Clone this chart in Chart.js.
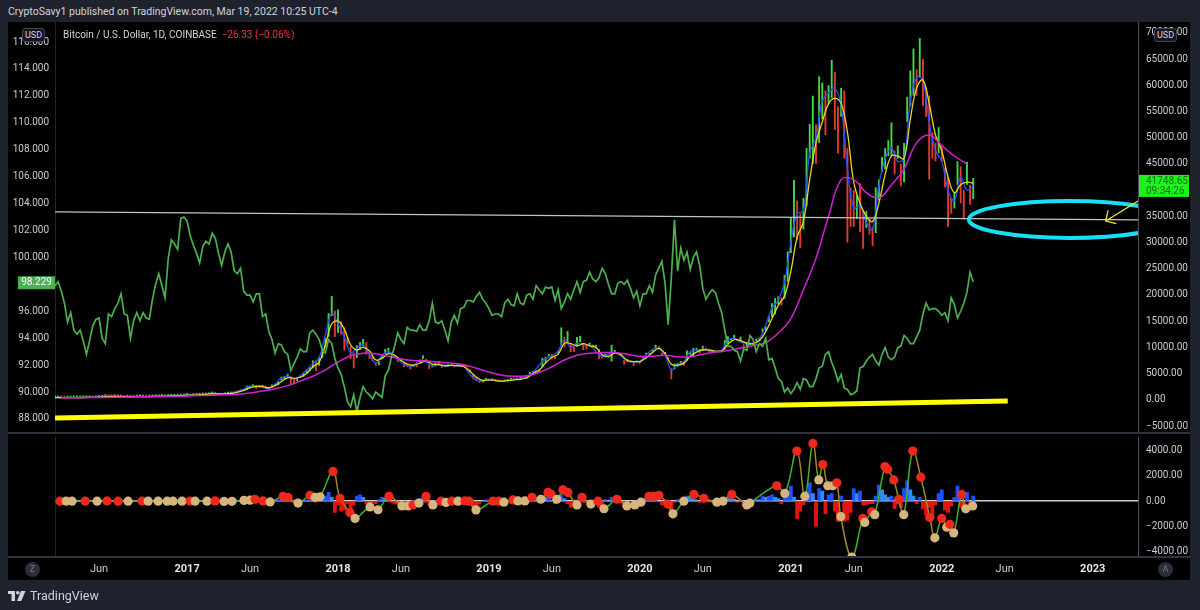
<!DOCTYPE html>
<html>
<head>
<meta charset="utf-8">
<title>BTCUSD / DXY</title>
<script src="https://cdn.jsdelivr.net/npm/chart.js@4.4.1/dist/chart.umd.min.js"></script>
<style>
  html, body { margin: 0; padding: 0; }
  body { width: 1200px; height: 610px; background: #1e222d; position: relative; overflow: hidden;
         font-family: Roboto, "Liberation Sans", sans-serif; color: #d1d4dc; }
  #head { position: absolute; left: 8px; top: 4px; font-size: 10.5px; line-height: 15px; }
  #pane { position: absolute; left: 8px; top: 22px; width: 1182px; height: 558px; background: #000; }
  #mainBox { position: absolute; left: 8px; top: 22px; width: 1182px; height: 410px; }
  #subBox { position: absolute; left: 8px; top: 433px; width: 1182px; height: 147px; }
  .sep { position: absolute; left: 8px; width: 1182px; height: 2px; background: #30333d; }
  #legend { position: absolute; left: 63px; top: 29px; font-size: 10px; line-height: 12px; color: #d1d4dc; }
  #legend span { color: #f23645; margin-left: 5px; }
  .usd { position: absolute; top: 28px; width: 21px; height: 12px; border: 1px solid #434651; border-radius: 3px;
         background: #131722; font-size: 9px; line-height: 12px; text-align: center; color: #d1d4dc; }
  .btn { position: absolute; top: 562px; width: 15px; height: 15px; border-radius: 50%; background: #2a2e39;
         color: #787b86; font-size: 9px; line-height: 15px; text-align: center; }
  #brand { position: absolute; left: 8px; top: 588px; font-size: 12.5px; color: #d1d4dc;
           display: flex; align-items: center; gap: 4px; }
</style>
</head>
<body>
<div id="head">CryptoSavy1 published on TradingView.com, Mar 19, 2022 10:25 UTC-4</div>
<div id="pane"></div>
<div id="mainBox"><canvas id="main"></canvas></div>
<div id="subBox"><canvas id="sub"></canvas></div>
<div class="sep" style="top:432px"></div>
<div class="sep" style="top:556px"></div>
<div id="legend">Bitcoin / U.S. Dollar, 1D, COINBASE<span>−26.33 (−0.06%)</span></div>
<div class="usd" style="left:22px">USD</div>
<div class="usd" style="left:1154px">USD</div>
<div class="btn" style="left:25px">Z</div>
<div class="btn" style="left:1158px">A</div>
<div id="brand">
  <svg width="18" height="10" viewBox="0 0 18 10"><path d="M0 0h7v10H3.5V3H0z" fill="#d1d4dc"/><circle cx="9.8" cy="1.8" r="1.8" fill="#d1d4dc"/><path d="M13 0h4.5l-4.3 10H9z" fill="#d1d4dc"/></svg>
  <span>TradingView</span>
</div>
<script>
// time runs in decimal years; weekly slots start 16 Feb 2016
const X_MIN = 2016.125, X_MAX = 2023.3;

// BTCUSD weekly range (4 slots per month), low / high
const btcLow = [
  395,415, 410,405,408,410, 412,418,422,430, 440,448,440,445, 525,570,680,620, 640,650,655,645, 530,575,570,565, 590,600,603,598, 605,612,635,650, 690,690,700,725, 740,765,775,790,
  890,760,870,895, 910,990,980,1040, 1180,1140,950,940, 1030,1160,1170,1200, 1340,1540,1700,1900, 2200,2500,2100,2400, 2450,2300,1850,2300, 2600,2800,3700,3900, 4300,3000,3100,3600, 4200,4400,5100,5500, 6000,5500,6500,8000, 10000,12000,16000,12000,
  12800,12500,9400,10500, 7800,6000,8000,9500, 10200,8600,7800,7300, 6500,6600,7800,8700, 9000,8400,8000,7200, 7300,6200,6300,5800, 6300,6200,7200,7800, 7100,5900,6200,6400, 6800,6100,6300,6400, 6450,6200,6400,6250, 6350,6250,5200,3900, 3700,3250,3300,3700,
  3650,3700,3550,3500, 3400,3500,3600,3700, 3800,3850,3950,4000, 4050,4800,5100,5200, 5400,6200,7000,8300, 7700,7800,8900,10500, 10000,11000,9100,9100, 10100,11000,9500,9600, 10300,10000,10100,7800, 7900,8100,8000,7300, 9000,8700,8300,6700, 7200,7100,6450,7100,
  6900,7700,8600,8400, 9200,9700,9600,8500, 8600,7700,3900,5800, 6300,6800,6500,7500, 8600,8100,9300,8800, 9300,9500,9100,9000, 8900,9100,9050,9600, 10700,11300,11600,11200, 11200,9900,10200,10400, 10400,11200,11300,12800, 13200,14800,15800,16300, 18200,18000,19300,22500,
  28000,31000,30500,29000, 32500,37000,46000,45000, 45000,49000,53500,50500, 56500,57500,51500,47000, 54000,46000,30000,33000, 33000,34500,32000,28800, 32800,31500,29300,31800, 38000,43500,44000,46500, 46500,43000,46000,40700, 41500,53000,56000,58000, 58000,61500,56000,54000, 42000,46000,45500,47000,
  45500,40500,33000,35500, 36500,41000,37500,34400, 41000,37200,38300
];
const btcHigh = [
  420,445, 440,420,420,420, 425,428,432,460, 455,460,455,535, 590,700,770,760, 690,680,670,665, 610,595,585,585, 610,615,612,610, 620,645,655,715, 745,720,750,745, 770,780,800,970,
  1130,920,930,930, 1010,1020,1070,1210, 1290,1250,1200,1070, 1100,1210,1220,1350, 1560,1800,2000,2700, 2600,2980,2800,2700, 2650,2550,2400,2900, 2900,3500,4400,4500, 4950,4500,4000,4300, 4500,5200,5800,6200, 7500,7500,8100,10000, 11800,16500,19800,17000,
  17200,15000,13800,12000, 10200,9000,10400,11000, 11600,11000,8700,8400, 7200,7400,8500,9700, 9900,9000,8600,7700, 7750,7000,6800,6400, 6700,6700,7600,8500, 7800,6800,6700,7100, 7400,6500,6600,6800, 6600,6700,6500,6400, 6500,6400,5800,4700, 4300,3600,3700,4150,
  3900,4050,3700,3600, 3500,3650,3700,4150, 3900,3950,4050,4100, 4200,5300,5300,5400, 5800,8000,8200,8800, 8700,8300,9400,13800, 12000,13100,10800,10200, 12000,12200,10800,10500, 10900,10500,10400,9700, 8500,8800,8300,10500, 9500,9100,8700,7600, 7800,7500,7300,7500,
  7400,8300,9000,9000, 9500,10500,10300,9000, 9100,8100,6000,6900, 7000,7400,7200,9400, 9100,9900,9900,9300, 10300,9900,9500,9300, 9300,9400,9250,11400, 12100,11800,12400,11700, 12050,10600,11000,10900, 10700,11700,11900,13600, 14000,15900,18400,19400, 19700,19500,23800,28300,
  34800,41900,38000,35500, 38500,48000,52600,58000, 52500,61700,60500,59000, 60000,64800,62500,56000, 59500,59000,48000,40500, 40000,39000,41300,36000, 36000,34500,33000,40500, 42000,46300,48000,49500, 52900,47500,48500,45000, 49000,57800,62800,67000, 63000,69000,65000,59500, 58000,51000,49000,52000,
  48500,44300,42500,38500, 39500,45500,44500,40000, 45400,41000,42300
];
const lastBtc = 41748.65, lastBtcClock = '09:34:26';

// U.S. dollar index, same weekly slots (left scale)
const dxyClose = [
  97.9,98.2, 97.5,96.6,95.2,95.9, 94.6,94.3,94.6,93.8, 92.8,93.8,94.9,95.4, 95.5,94.0,93.6,95.8, 95.6,96.2,96.6,97.3, 95.8,95.7,94.0,95.3, 95.9,95.3,95.9,95.5, 95.4,96.9,98.0,98.8, 97.9,97.0,99.9,101.3, 101.0,100.6,102.9,103.0,
  102.7,101.6,100.9,100.3, 99.6,100.8,101.2,101.0, 101.8,101.4,100.3,99.4, 100.4,101.0,100.4,99.0, 98.8,99.2,97.5,97.2, 97.2,96.7,97.3,97.3, 95.6,95.8,94.5,93.9, 92.9,93.6,93.5,93.0, 92.8,91.6,92.1,92.6, 93.2,93.0,93.0,94.4, 94.6,94.3,93.9,93.1, 92.9,93.9,93.6,92.5,
  91.8,91.3,90.4,89.3, 88.9,89.8,88.5,89.6, 90.4,90.0,89.8,89.5, 90.0,89.8,89.6,91.2, 91.6,92.6,93.4,94.4, 93.9,93.6,94.8,94.6, 94.6,94.5,95.0,94.6, 94.6,95.3,96.6,95.2, 95.1,95.3,94.6,93.8, 95.2,95.7,95.1,96.2, 96.3,96.8,96.8,96.7, 97.1,97.4,96.9,96.6,
  96.2,95.7,95.8,95.8, 95.6,96.6,96.9,96.5, 96.4,97.3,96.6,96.5, 97.2,97.3,96.9,97.9, 97.6,97.3,97.8,97.7, 97.8,96.8,97.6,96.2, 96.7,97.3,96.9,97.6, 98.2,97.4,98.2,98.3, 98.9,98.4,98.2,98.5, 99.2,98.8,98.0,97.3, 97.3,98.1,98.2,98.0, 98.3,97.7,97.0,97.5,
  96.4,97.3,97.3,97.9, 97.4,98.7,99.2,99.7, 98.1,95.0,98.5,102.8, 99.0,100.7,99.8,100.4, 99.1,100.0,100.4,99.4, 97.7,96.9,97.3,97.6, 97.4,96.6,95.9,94.6, 93.4,93.4,93.1,93.0, 92.3,93.2,93.1,94.2, 93.9,93.0,93.6,93.4, 94.0,92.4,92.5,91.8, 91.0,90.8,90.0,90.3,
  89.9,90.2,90.7,90.2, 91.0,90.9,90.4,90.4, 91.0,91.8,91.9,92.8, 93.0,92.2,91.6,90.8, 91.3,90.3,90.2,89.8, 89.9,90.1,91.8,91.9, 92.3,92.6,92.8,92.3, 92.0,92.8,93.3,92.6, 92.4,92.6,93.3,93.4, 94.2,94.0,93.6,93.6, 94.1,94.6,95.8,96.6, 96.1,96.2,96.2,96.0,
  95.7,95.9,95.3,97.0, 96.5,95.5,96.0,96.6, 97.4,98.9,98.2
];
const lastDxy = 98.229;

// moving averages on BTC: two per month (yellow, blue), monthly from Mar 2016 (magenta)
const maYellow = [
  410, 415,418, 420,425, 445,455, 500,610, 660,660, 620,590, 595,605, 615,640, 690,720, 750,790,
  880,900, 960,1040, 1150,1130, 1120,1200, 1450,1800, 2300,2550, 2500,2300, 2700,3500, 4200,4100, 4300,5000, 6300,7200, 10500,14500,
  15000,13500, 10500,9500, 10000,9300, 7600,7900, 8800,8500, 7600,6800, 6600,7000, 7400,6800, 6700,6500, 6550,6500, 6350,5400, 4300,3700,
  3800,3700, 3550,3650, 3800,3900, 4200,5000, 5700,7000, 8100,8700, 10800,10700, 10300,10700, 10300,10000, 8600,8300, 8900,8600, 7500,7300,
  7300,8000, 9000,9800, 8800,6800, 6600,7000, 8300,9100, 9500,9500, 9300,9300, 10600,11500, 11300,10800, 10700,11300, 13000,15500, 18000,19800,
  24500,31000, 34000,42000, 49000,53000, 56500,57500, 56500,51000, 41500,37500, 35000,34000, 37500,43000, 46500,46500, 46000,53500, 59500,61000, 56500,50500,
  47500,42500, 39500,41000, 41500,41300
];
const maBlue = [
  415, 418,415, 421,430, 450,480, 580,700, 665,662, 590,578, 603,607, 625,665, 705,735, 770,830,
  930,910, 1000,1100, 1220,1080, 1100,1260, 1620,2050, 2600,2600, 2420,2200, 3000,4200, 4500,3900, 4600,5700, 6900,8000, 12500,16500,
  14500,12000, 9000,9800, 10500,8600, 7000,8500, 9200,8300, 7200,6500, 6500,7600, 7200,6400, 6800,6400, 6550,6450, 6350,4800, 3700,3650,
  3850,3650, 3500,3700, 3870,4000, 4500,5200, 6600,7900, 8300,9300, 11500,10000, 10800,10400, 10400,9200, 8300,8700, 9000,8300, 7400,7200,
  7400,8500, 9600,9800, 8500,5700, 6800,7300, 9200,9500, 9600,9400, 9200,9500, 11400,11700, 11000,10800, 10800,11600, 14200,17500, 19000,22500,
  30000,35500, 36000,47000, 50000,57000, 58500,59500, 56000,44000, 36500,37000, 33800,32500, 41000,46000, 48000,45500, 46000,57000, 61500,61000, 53000,47500,
  45500,40000, 38000,42500, 40000,40800
];
const maMagenta = [
  400,405,415,430,480,530,560,580,610,650,
  720,800,870,960,1050,1300,1700,2100,2700,3600,4500,5700,
  7200,8400,8900,8800,8300,7800,7500,7400,7200,7000,6700,6000,
  5300,4700,4500,4600,5200,6300,7600,8500,8900,9000,9000,8700,
  8300,8300,8500,8200,8200,8700,9100,9400,9900,10300,10900,12700,
  15500,21000,27000,35000,42000,42000,39500,38500,41000,44000,49000,50500,
  48500,46500,45000
];

// drawn lines: level through the two DXY tops, rising support under BTC
const levelT = [2016.125, 2023.3], levelDxy = [103.39, 102.79];
const trendT = [2016.125, 2022.437], trendBtc = [-3470, -230];

// lower pane: histogram on weekly slots, signal line with dots
const oscHist = [
  0,0, 0,0,0,0, 0,0,0,0, 0,0,0,0, 0,0,0,0, 0,0,0,0, 0,0,0,0, 0,0,0,0, 0,0,0,0, 0,0,0,0, 0,0,0,0,
  0,0,0,0, 0,0,0,0, 0,0,0,0, 0,0,0,0, 0,10,20,30, 40,0,-40,-20, -20,-30,-60,40, 60,80,100,40, 40,-60,-120,-30, 20,60,80,100, 120,-80,100,200, 400,700,300,-900,
  -300,-800,-700,-200, -600,-300,400,500, 300,-200,-300,-100, -200,100,300,250, 100,-100,-200,-250, -150,-200,-120,-80, 50,80,200,250, -100,-250,-150,60, 50,-80,20,30, 0,20,-10,-20, 0,-30,-250,-400, -350,-200,0,100,
  40,50,-60,-40, -20,30,40,40, 30,20,30,30, 40,250,150,60, 100,400,300,350, 50,-200,200,500, 200,-200,-500,-300, 100,250,-100,-100, 50,0,-50,-500, -300,100,0,300, 100,-100,-150,-350, -150,-100,-80,0,
  50,200,250,150, 200,300,-50,-300, -200,-400,-700,-100, 100,150,100,400, 300,150,100,-100, 50,50,-50,-80, -50,30,-20,300, 250,200,150,-100, 50,-400,0,-50, -50,150,100,400, 300,400,500,300, 200,-200,500,800,
  1200,300,-1400,-800, -300,800,1450,600, -2000,1000,800,-1000, 500,600,-800,-1600, 400,-1600,-1500,-900, 1000,600,800,-300, -300,-200,-200,400, 1300,900,500,300, 400,-600,-200,-500, 1000,1600,900,400, -200,300,-600,-1100, -500,-1200,-300,600,
  900,-700,-900,-400, 300,1200,-500,-600, 700,-300,400
];
const oscT = [
  2016.159,2016.199,2016.238,2016.325,2016.404,2016.470,2016.543,2016.609,2016.702,2016.742,2016.808,2016.868,2016.907,2016.967,
  2017.020,2017.053,2017.132,2017.185,2017.245,2017.298,2017.377,2017.417,2017.450,2017.503,2017.550,2017.636,2017.669,2017.735,2017.815,2017.848,2017.881,2017.967,
  2018.013,2018.079,2018.113,2018.212,2018.265,2018.338,2018.424,2018.464,2018.497,2018.536,2018.583,2018.629,2018.682,2018.715,2018.755,2018.795,2018.841,2018.868,2018.914,
  2019.026,2019.066,2019.099,2019.159,2019.192,2019.238,2019.285,2019.344,2019.391,2019.411,2019.450,2019.490,2019.523,2019.583,2019.616,2019.675,2019.722,2019.762,2019.848,2019.914,2019.967,
  2020.007,2020.060,2020.093,2020.126,2020.185,2020.219,2020.291,2020.358,2020.424,2020.510,2020.550,2020.609,2020.709,2020.728,2020.907,2020.960,
  2021.040,2021.093,2021.146,2021.185,2021.212,2021.245,2021.278,2021.305,2021.331,2021.404,2021.477,2021.490,2021.536,2021.556,2021.623,2021.642,2021.682,2021.715,2021.748,2021.808,2021.861,2021.921,2021.954,
  2022.000,2022.033,2022.053,2022.079,2022.132,2022.159,2022.205
];
const oscV = [
  0,0,0,0,0,20,0,0,10,0,0,0,0,0,
  10,0,0,20,-20,-10,60,80,150,20,-60,380,300,-150,460,300,350,2350,
  230,-900,-1370,-460,-680,380,-380,-380,-300,-150,380,-300,0,-100,0,0,20,0,-690,
  0,0,-80,100,20,20,300,150,690,550,150,900,690,-300,300,-230,0,-600,150,-380,-300,
  -80,380,380,450,-230,-1000,0,530,230,-80,0,530,-300,-150,1220,610,
  3960,380,4570,1680,2900,1220,1220,1450,-1220,-4420,-1370,-1680,-840,-1070,2740,2510,1680,150,-1070,3960,1900,-1300,-2900,
  -1370,-2060,-1830,-2510,530,-610,-380
];
// dot colour per point: r = red, t = tan
const oscKind = ('rttrtrrtrttttt' + 'rttrttttrrtrrtrttr' + 'rrtttrttrtrtrtrtrrt' + 'rrtrttrtrrtrrtrtrtrtt' +
                 'trrrrttrrttrttrt' + 'rtrtrttrttrtrtrrrrtrrrt' + 'rtrtrtt').split('');

// axis ticks
const dxyTicks = [88, 90, 92, 94, 96, 98, 100, 102, 104, 106, 108, 110, 112, 114, 116];
const btcTicks = [-5000, 0, 5000, 10000, 15000, 20000, 25000, 30000, 35000, 40000, 45000, 50000, 55000, 60000, 65000, 70000];
const oscTicks = [-4000, -2000, 0, 2000, 4000];
const timeTicks = [2016.417, 2017, 2017.417, 2018, 2018.417, 2019, 2019.417, 2020, 2020.417, 2021, 2021.417, 2022, 2022.417, 2023];

// circled target zone and arrow (in data units)
const marks = {
  ring: { x: 2022.848, y: 34390, rx: 0.669, ry: 3530 },
  arrowFrom: { x: 2023.3, y: 37920 },
  arrowTo: { x: 2023.086, y: 34100 }
};

[['btcLow', btcLow, 293], ['btcHigh', btcHigh, 293], ['dxyClose', dxyClose, 293], ['oscHist', oscHist, 293],
 ['maYellow', maYellow, 147], ['maBlue', maBlue, 147], ['maMagenta', maMagenta, 73],
 ['oscV', oscV, oscT.length], ['oscKind', oscKind, oscT.length]].forEach(([n, a, len]) => {
  if (a.length !== len) throw new Error(n + ' has ' + a.length + ' values, expected ' + len);
});

const weekT = btcLow.map((_, i) => X_MIN + i / 48);
const halfT = maYellow.map((_, i) => X_MIN + i / 24);
const monthT = maMagenta.map((_, i) => 2016 + (2 + i) / 12);
const xy = (ts, vs) => ts.map((t, i) => ({ x: t, y: vs[i] }));

const TXT = '#c9cbd1';
const FONT = 'Roboto, "Liberation Sans", sans-serif';
Chart.defaults.font.family = FONT;
Chart.defaults.font.size = 10;
Chart.defaults.color = TXT;

const fmt = v => (v < 0 ? '−' : '') + Math.abs(v).toFixed(2);
const fixTicks = list => s => { s.ticks = list.map(v => ({ value: v })); };
const fitY = w => s => { s.width = w; s.paddingTop = 0; s.paddingBottom = 0; };
const tickVal = c => (c && c.tick ? c.tick.value : NaN);
const isYear = c => Number.isInteger(tickVal(c));

const UP = '#43d843', DOWN = '#e23a32';
const candleColors = btcLow.map((lo, i) =>
  i === 0 || lo + btcHigh[i] >= btcLow[i - 1] + btcHigh[i - 1] ? UP : DOWN);

const overlay = {
  id: 'overlay',
  afterDatasetsDraw(chart) {
    const { ctx, chartArea: a, scales: { x, btc } } = chart;
    ctx.save();
    ctx.beginPath();
    ctx.rect(a.left, a.top, a.width, a.height);
    ctx.clip();
    const r = marks.ring;
    const cx = x.getPixelForValue(r.x), cy = btc.getPixelForValue(r.y);
    const rx = x.getPixelForValue(r.x + r.rx) - cx;
    const ry = cy - btc.getPixelForValue(r.y + r.ry);
    ctx.beginPath();
    ctx.ellipse(cx, cy, rx, ry, 0, 0, Math.PI * 2);
    ctx.strokeStyle = '#19dff2';
    ctx.lineWidth = 4;
    ctx.stroke();

    const x0 = x.getPixelForValue(marks.arrowFrom.x), y0 = btc.getPixelForValue(marks.arrowFrom.y);
    const x1 = x.getPixelForValue(marks.arrowTo.x), y1 = btc.getPixelForValue(marks.arrowTo.y);
    const ang = Math.atan2(y0 - y1, x0 - x1);
    ctx.strokeStyle = '#f2e33a';
    ctx.lineWidth = 1.3;
    ctx.beginPath();
    ctx.moveTo(x0, y0); ctx.lineTo(x1, y1);
    ctx.moveTo(x1 + 11 * Math.cos(ang - 0.8), y1 + 11 * Math.sin(ang - 0.8));
    ctx.lineTo(x1, y1);
    ctx.lineTo(x1 + 11 * Math.cos(ang + 0.8), y1 + 11 * Math.sin(ang + 0.8));
    ctx.stroke();
    ctx.restore();
  },
  afterDraw(chart) {
    const { ctx, chartArea: a, scales: { btc, dxy } } = chart;
    ctx.save();
    ctx.font = '10px ' + FONT;
    ctx.textBaseline = 'middle';
    const yb = btc.getPixelForValue(lastBtc);
    ctx.fillStyle = '#1cf51c';
    ctx.fillRect(a.right + 1, yb - 6, 50, 22);
    ctx.fillStyle = '#176b17';
    ctx.textAlign = 'left';
    ctx.fillText(lastBtc.toFixed(2), a.right + 8, yb + 0.5);
    ctx.fillText(lastBtcClock, a.right + 8, yb + 10.5);

    const yd = dxy.getPixelForValue(lastDxy);
    ctx.fillStyle = '#4caf50';
    ctx.fillRect(a.left - 37, yd - 5, 37, 13);
    ctx.fillStyle = '#ffffff';
    ctx.textAlign = 'center';
    ctx.fillText(lastDxy.toFixed(3), a.left - 18.5, yd + 1.5);
    ctx.restore();
  }
};

new Chart(document.getElementById('main'), {
  type: 'line',
  data: {
    datasets: [
      { label: 'level', yAxisID: 'dxy', data: xy(levelT, levelDxy), borderColor: '#c4c4c4', borderWidth: 1.2, pointRadius: 0, order: 0 },
      { label: 'support', yAxisID: 'btc', data: xy(trendT, trendBtc), borderColor: '#ffff00', borderWidth: 5, pointRadius: 0, order: 0 },
      { label: 'DXY', yAxisID: 'dxy', data: xy(weekT, dxyClose), borderColor: '#4caf50', borderWidth: 1.7, pointRadius: 0, order: 1 },
      { label: 'MA slow', yAxisID: 'btc', data: xy(monthT, maMagenta), borderColor: '#d41fd8', borderWidth: 1.5, pointRadius: 0, tension: 0.4, order: 2 },
      { label: 'MA mid', yAxisID: 'btc', data: xy(halfT, maYellow), borderColor: '#e8d81e', borderWidth: 1.3, pointRadius: 0, tension: 0.4, order: 3 },
      { label: 'MA fast', yAxisID: 'btc', data: xy(halfT, maBlue), borderColor: '#2451ff', borderWidth: 1.3, pointRadius: 0, tension: 0.4, order: 4 },
      { type: 'bar', label: 'BTCUSD', yAxisID: 'btc', data: weekT.map((t, i) => ({ x: t, y: [btcLow[i], btcHigh[i]] })),
        backgroundColor: candleColors, categoryPercentage: 0.6, barPercentage: 1, minBarLength: 2, grouped: false, order: 5 }
    ]
  },
  options: {
    responsive: true,
    maintainAspectRatio: false,
    animation: false,
    layout: { padding: 0 },
    plugins: { legend: { display: false }, tooltip: { enabled: false } },
    scales: {
      x: { type: 'linear', min: X_MIN, max: X_MAX, offset: false, display: false },
      btc: {
        type: 'linear', position: 'right', min: -6141, max: 72058,
        afterBuildTicks: fixTicks(btcTicks), afterFit: fitY(52),
        grid: { display: false, drawTicks: false },
        border: { display: true, color: '#4a4e59' },
        ticks: { padding: 8, callback: fmt }
      },
      dxy: {
        type: 'linear', position: 'left', min: 87.034, max: 117.486,
        afterBuildTicks: fixTicks(dxyTicks), afterFit: fitY(47),
        grid: { display: false, drawTicks: false },
        border: { display: true, color: '#23262f' },
        ticks: { padding: 6, callback: v => v.toFixed(3) }
      }
    }
  },
  plugins: [overlay]
});

const RISE = '#3fb52c', FALL = '#9c8a26';
const histColors = oscHist.map((v, i) =>
  v >= 0 ? (i && v < oscHist[i - 1] ? '#2f8cff' : '#1d4fff') : '#e3140f');

new Chart(document.getElementById('sub'), {
  type: 'line',
  data: {
    datasets: [
      { label: 'signal', yAxisID: 'osc', data: xy(oscT, oscV), borderWidth: 1.5, tension: 0.4, borderColor: RISE,
        segment: { borderColor: c => c.p1.parsed.y >= c.p0.parsed.y ? RISE : FALL },
        pointRadius: 4.6, pointBorderWidth: 0,
        pointBackgroundColor: oscKind.map(k => k === 'r' ? '#f0281c' : '#d5b47e'), order: 0 },
      { type: 'bar', label: 'hist', yAxisID: 'osc', data: xy(weekT, oscHist), backgroundColor: histColors,
        categoryPercentage: 1, barPercentage: 1, grouped: false, order: 1 }
    ]
  },
  options: {
    responsive: true,
    maintainAspectRatio: false,
    animation: false,
    layout: { padding: 0 },
    plugins: { legend: { display: false }, tooltip: { enabled: false } },
    scales: {
      x: {
        type: 'linear', min: X_MIN, max: X_MAX, offset: false, position: 'bottom',
        afterBuildTicks: fixTicks(timeTicks),
        afterFit: s => { s.height = 23; s.paddingLeft = 0; s.paddingRight = 0; },
        grid: { display: false, drawTicks: false },
        border: { display: false },
        ticks: {
          autoSkip: false, maxRotation: 0, padding: 6,
          color: c => isYear(c) ? '#e4e5e8' : TXT,
          font: c => ({ size: 11, weight: isYear(c) ? 'bold' : 'normal' }),
          callback: v => Number.isInteger(v) ? String(v) : 'Jun'
        }
      },
      osc: {
        type: 'linear', position: 'right', min: -4419, max: 5029,
        afterBuildTicks: fixTicks(oscTicks), afterFit: fitY(52),
        grid: {
          drawTicks: false,
          color: c => tickVal(c) === 0 ? '#d0d0d0' : 'rgba(0,0,0,0)',
          lineWidth: c => tickVal(c) === 0 ? 1.5 : 0
        },
        border: { display: true, color: '#4a4e59' },
        ticks: { padding: 8, callback: fmt }
      },
      pad: {
        type: 'linear', position: 'left', min: 0, max: 1,
        afterFit: fitY(47),
        grid: { display: false, drawTicks: false },
        border: { display: true, color: '#23262f' },
        ticks: { display: false }
      }
    }
  }
});
</script>
</body>
</html>
